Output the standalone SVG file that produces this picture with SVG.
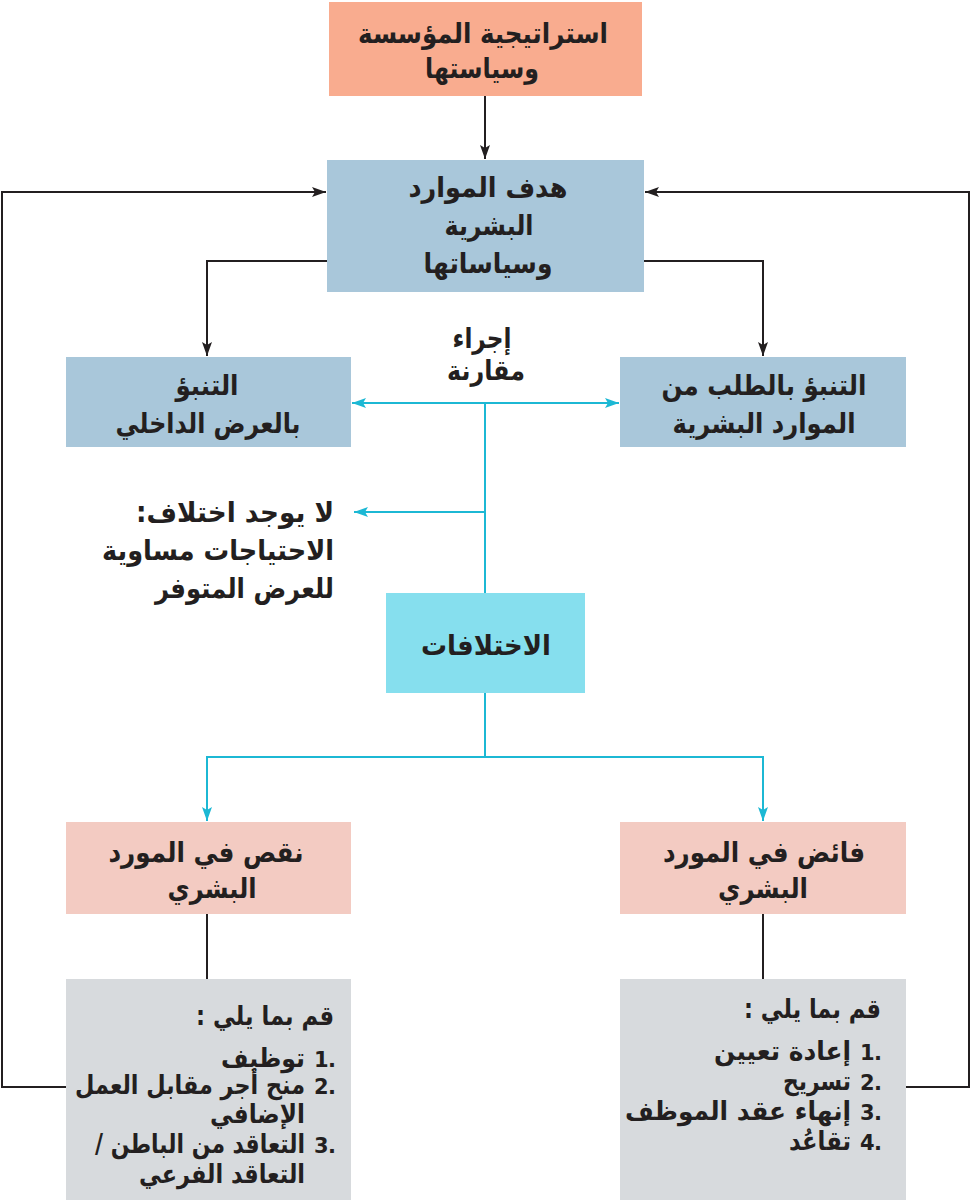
<svg xmlns="http://www.w3.org/2000/svg" width="971" height="1200" viewBox="0 0 971 1200">
<style>
  .t { font-family: "DejaVu Sans", "Noto Sans", sans-serif; font-weight: bold; fill: #231f20; }
  .c { text-anchor: middle; font-size: 28px; }
  .r { text-anchor: end; font-size: 28px; }
  .e { text-anchor: end; font-size: 26px; }
  .n { text-anchor: start; font-size: 21px; }
  .k { stroke: #231f20; stroke-width: 2; fill: none; }
  .cy { stroke: #1cb8d4; stroke-width: 2; fill: none; }
</style>
<defs>
  <marker id="ab" markerUnits="userSpaceOnUse" markerWidth="16" markerHeight="12" refX="14" refY="5" orient="auto">
    <path d="M0,0 L14,5 L0,10 L3,5 Z" fill="#231f20"/>
  </marker>
  <marker id="ac" markerUnits="userSpaceOnUse" markerWidth="16" markerHeight="12" refX="14" refY="5" orient="auto">
    <path d="M0,0 L14,5 L0,10 L3,5 Z" fill="#1cb8d4"/>
  </marker>
  <marker id="acs" markerUnits="userSpaceOnUse" markerWidth="16" markerHeight="12" refX="0" refY="5" orient="auto">
    <path d="M14,0 L0,5 L14,10 L11,5 Z" fill="#1cb8d4"/>
  </marker>
</defs>
<rect width="971" height="1200" fill="#ffffff"/>

<g id="connectors">
  <line class="k" x1="485" y1="96" x2="485" y2="159" marker-end="url(#ab)"/>
  <polyline class="k" points="327,261 207,261 207,356" marker-end="url(#ab)"/>
  <polyline class="k" points="644,261 763,261 763,356" marker-end="url(#ab)"/>
  <line class="cy" x1="352" y1="403" x2="619" y2="403" marker-start="url(#acs)" marker-end="url(#ac)"/>
  <line class="cy" x1="485" y1="403" x2="485" y2="593"/>
  <line class="cy" x1="485" y1="512" x2="354" y2="512" marker-end="url(#ac)"/>
  <line class="cy" x1="485" y1="693" x2="485" y2="757"/>
  <polyline class="cy" points="485,757 207,757 207,821" marker-end="url(#ac)"/>
  <polyline class="cy" points="485,757 763,757 763,821" marker-end="url(#ac)"/>
  <line class="k" x1="207" y1="914" x2="207" y2="979"/>
  <line class="k" x1="763" y1="914" x2="763" y2="979"/>
  <polyline class="k" points="66,1087 2,1087 2,192 326,192" marker-end="url(#ab)"/>
  <polyline class="k" points="906,1087 969,1087 969,192 645,192" marker-end="url(#ab)"/>
</g>

<g id="strategy">
  <rect x="329" y="2" width="313" height="94" fill="#f9ac8f"/>
  <text class="t c" x="483" y="43" textLength="250" lengthAdjust="spacingAndGlyphs">استراتيجية المؤسسة</text>
  <text class="t c" x="482" y="78" textLength="114" lengthAdjust="spacingAndGlyphs">وسياستها</text>
</g>

<g id="hr-goal">
  <rect x="327" y="160" width="317" height="132" fill="#a9c7da"/>
  <text class="t c" x="488" y="197" textLength="159" lengthAdjust="spacingAndGlyphs">هدف الموارد</text>
  <text class="t c" x="489" y="235" textLength="89" lengthAdjust="spacingAndGlyphs">البشرية</text>
  <text class="t c" x="488" y="273" textLength="129" lengthAdjust="spacingAndGlyphs">وسياساتها</text>
</g>

<g id="supply-forecast">
  <rect x="66" y="357" width="285" height="90" fill="#a9c7da"/>
  <text class="t c" x="207" y="395" textLength="63" lengthAdjust="spacingAndGlyphs">التنبؤ</text>
  <text class="t c" x="208" y="433" textLength="185" lengthAdjust="spacingAndGlyphs">بالعرض الداخلي</text>
</g>

<g id="demand-forecast">
  <rect x="620" y="357" width="286" height="90" fill="#a9c7da"/>
  <text class="t c" x="764" y="395" textLength="205" lengthAdjust="spacingAndGlyphs">التنبؤ بالطلب من</text>
  <text class="t c" x="764" y="433" textLength="183" lengthAdjust="spacingAndGlyphs">الموارد البشرية</text>
</g>

<g id="compare-label">
  <text class="t c" x="482" y="348" textLength="59" lengthAdjust="spacingAndGlyphs">إجراء</text>
  <text class="t c" x="486" y="380" textLength="78" lengthAdjust="spacingAndGlyphs">مقارنة</text>
</g>

<g id="no-difference">
  <text class="t r" x="334" y="522" textLength="198" lengthAdjust="spacingAndGlyphs">لا يوجد اختلاف:&#x200F;</text>
  <text class="t r" x="334" y="560" textLength="232" lengthAdjust="spacingAndGlyphs">الاحتياجات مساوية</text>
  <text class="t r" x="334" y="598" textLength="179" lengthAdjust="spacingAndGlyphs">للعرض المتوفر</text>
</g>

<g id="differences">
  <rect x="386" y="593" width="199" height="100" fill="#86dfee"/>
  <text class="t c" x="486" y="655" textLength="130" lengthAdjust="spacingAndGlyphs">الاختلافات</text>
</g>

<g id="shortage">
  <rect x="66" y="822" width="285" height="92" fill="#f3cbc2"/>
  <text class="t c" x="206" y="862" textLength="195" lengthAdjust="spacingAndGlyphs">نقص في المورد</text>
  <text class="t c" x="212" y="898" textLength="89" lengthAdjust="spacingAndGlyphs">البشري</text>
</g>

<g id="surplus">
  <rect x="620" y="822" width="286" height="92" fill="#f3cbc2"/>
  <text class="t c" x="764" y="862" textLength="202" lengthAdjust="spacingAndGlyphs">فائض في المورد</text>
  <text class="t c" x="763" y="898" textLength="90" lengthAdjust="spacingAndGlyphs">البشري</text>
</g>

<g id="shortage-actions">
  <rect x="66" y="979" width="285" height="221" fill="#d7dadd"/>
  <text class="t e" x="334" y="1025" textLength="138" lengthAdjust="spacingAndGlyphs">قم بما يلي :&#x200F;</text>
  <text class="t n" y="1067"><tspan x="314">1</tspan><tspan x="328">.</tspan></text>
  <text class="t e" x="305" y="1067" textLength="84" lengthAdjust="spacingAndGlyphs">توظيف</text>
  <text class="t n" y="1094"><tspan x="314">2</tspan><tspan x="328">.</tspan></text>
  <text class="t e" x="305" y="1094" textLength="230" lengthAdjust="spacingAndGlyphs">منح أجر مقابل العمل</text>
  <text class="t e" x="305" y="1123" textLength="95" lengthAdjust="spacingAndGlyphs">الإضافي</text>
  <text class="t n" y="1153"><tspan x="314">3</tspan><tspan x="328">.</tspan></text>
  <text class="t e" x="305" y="1153" textLength="210" lengthAdjust="spacingAndGlyphs">التعاقد من الباطن /&#x200F;</text>
  <text class="t e" x="305" y="1183" textLength="166" lengthAdjust="spacingAndGlyphs">التعاقد الفرعي</text>
</g>

<g id="surplus-actions">
  <rect x="620" y="979" width="286" height="221" fill="#d7dadd"/>
  <text class="t e" x="881" y="1018" textLength="137" lengthAdjust="spacingAndGlyphs">قم بما يلي :&#x200F;</text>
  <text class="t n" y="1060"><tspan x="860">1</tspan><tspan x="874">.</tspan></text>
  <text class="t e" x="851" y="1060" textLength="137" lengthAdjust="spacingAndGlyphs">إعادة تعيين</text>
  <text class="t n" y="1090"><tspan x="860">2</tspan><tspan x="874">.</tspan></text>
  <text class="t e" x="851" y="1090" textLength="68" lengthAdjust="spacingAndGlyphs">تسريح</text>
  <text class="t n" y="1120"><tspan x="860">3</tspan><tspan x="874">.</tspan></text>
  <text class="t e" x="851" y="1120" textLength="226" lengthAdjust="spacingAndGlyphs">إنهاء عقد الموظف</text>
  <text class="t n" y="1150"><tspan x="860">4</tspan><tspan x="874">.</tspan></text>
  <text class="t e" x="851" y="1150" textLength="62" lengthAdjust="spacingAndGlyphs">تقاعُد</text>
</g>
</svg>
